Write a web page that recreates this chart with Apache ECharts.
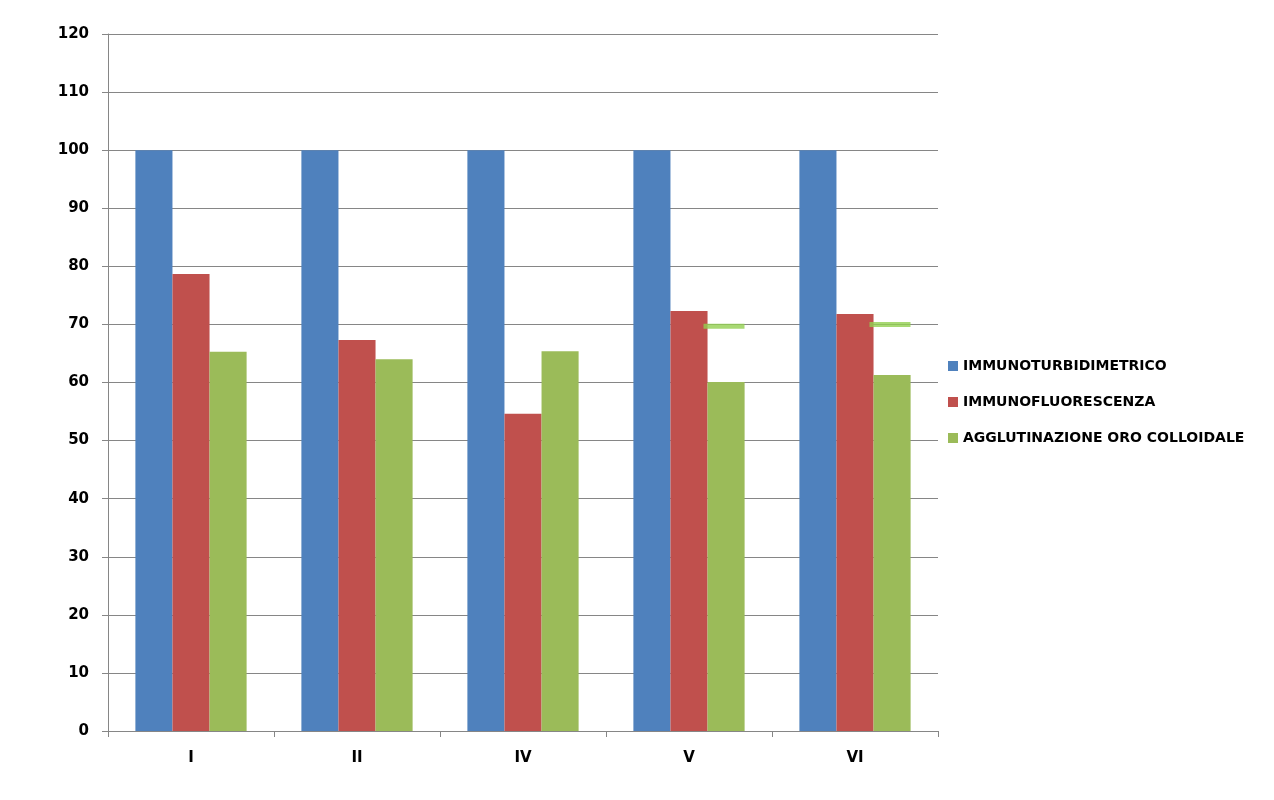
<!DOCTYPE html>
<html>
<head>
<meta charset="utf-8">
<script src="https://cdn.jsdelivr.net/npm/echarts@6/dist/echarts.min.js"></script>
<style>html,body{margin:0;padding:0;background:#fff;}#c{width:1274px;height:800px;}</style>
</head>
<body>
<div id="c"></div>
<script>
const categories = ['I', 'II', 'IV', 'V', 'VI'];
const seriesNames = ['IMMUNOTURBIDIMETRICO', 'IMMUNOFLUORESCENZA', 'AGGLUTINAZIONE ORO COLLOIDALE'];
const immunoturbidimetrico = [100, 100, 100, 100, 100];
const immunofluorescenza = [78.7, 67.3, 54.6, 72.3, 71.8];
const agglutinazione = [65.3, 64.0, 65.4, 60.1, 61.3];
const markerValues = [null, null, null, 69.7, 70.0];
const yTicks = [0, 10, 20, 30, 40, 50, 60, 70, 80, 90, 100, 110, 120];

const chart = echarts.init(document.getElementById('c'));
const fontFam = '"DejaVu Sans", sans-serif';
chart.setOption({
  animation: false,
  backgroundColor: '#ffffff',
  grid: {left: 108, right: 336, top: 34, bottom: 69, containLabel: false},
  legend: {
    orient: 'vertical', left: 943, top: 353, itemWidth: 10, itemHeight: 10, itemGap: 20,
    icon: 'rect', data: seriesNames,
    textStyle: {fontFamily: fontFam, fontWeight: 'bold', fontSize: 14, color: '#000', lineHeight: 16}
  },
  xAxis: {
    type: 'category', data: categories,
    axisLine: {lineStyle: {color: '#868686', width: 1}},
    axisTick: {show: true, length: 6, alignWithLabel: false, lineStyle: {color: '#868686'}},
    axisLabel: {margin: 20, fontFamily: fontFam, fontWeight: 'bold', fontSize: 15, color: '#000'}
  },
  yAxis: {
    type: 'value', min: yTicks[0], max: yTicks[yTicks.length - 1], interval: 10,
    axisLine: {show: true, lineStyle: {color: '#868686', width: 1}},
    axisTick: {show: true, length: 6, lineStyle: {color: '#868686'}},
    splitLine: {lineStyle: {color: '#868686', width: 1}},
    axisLabel: {margin: 19, fontFamily: fontFam, fontWeight: 'bold', fontSize: 15, color: '#000'}
  },
  series: [
    {name: seriesNames[0], type: 'bar', data: immunoturbidimetrico, itemStyle: {color: '#4F81BD'}, barGap: '0%', barCategoryGap: '33%'},
    {name: seriesNames[1], type: 'bar', data: immunofluorescenza, itemStyle: {color: '#C0504D'}},
    {name: seriesNames[2], type: 'bar', data: agglutinazione, itemStyle: {color: '#9BBB59'}},
    {name: 'marker', type: 'scatter', data: markerValues, symbol: 'rect', symbolSize: [41, 5], symbolOffset: [35, 0],
     itemStyle: {color: '#92D050'}, z: 5}
  ]
});
</script>
</body>
</html>
